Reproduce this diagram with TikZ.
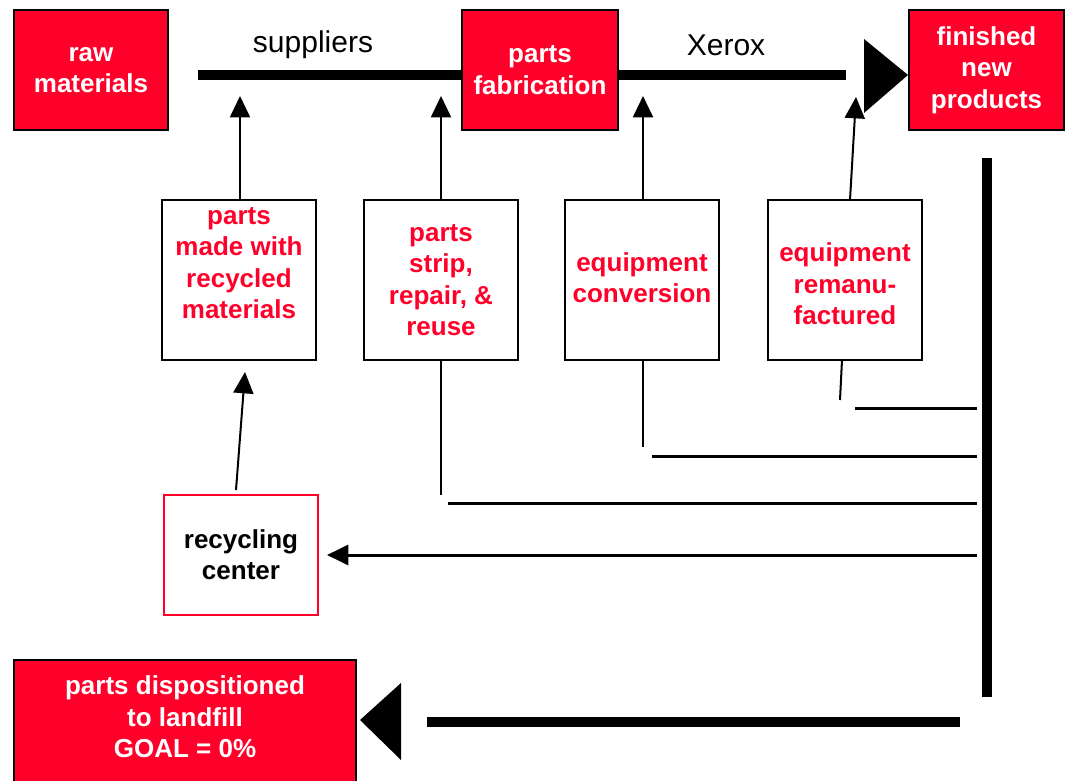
\documentclass[tikz,border=0pt]{standalone}
\usepackage{fontspec}
\setmainfont{Liberation Sans}
\usetikzlibrary{arrows.meta}
\definecolor{xred}{RGB}{255,0,42}
\begin{document}
\begin{tikzpicture}[x=0.75pt,y=-0.75pt,
  bf/.style={font=\fontsize{19.5}{23.5}\selectfont\bfseries, align=center},
  redbox/.style={draw=black, line width=1.5pt, fill=xred, text=white, bf, inner sep=0pt, minimum height=90pt},
  whitebox/.style={draw=black, line width=1.5pt, fill=white, inner sep=0pt, minimum width=115.5pt, minimum height=120pt},
  redtxt/.style={bf, text=xred, inner sep=0pt},
  lbl/.style={font=\fontsize{22.5}{26}\selectfont, inner sep=0pt},
  bus/.style={line width=7.5pt},
  feed/.style={line width=1.5pt},
  up/.style={line width=1.5pt, -{Triangle[width=15pt,length=16pt]}},
  hline/.style={line width=2.25pt},
  head/.style={fill=black, draw=none}
]
\useasboundingbox (0,0) rectangle (1070,781);

% top row
\node[redbox, minimum width=115.5pt] (raw) at (91,70) {raw\\materials};
\node[redbox, minimum width=117pt] (fab) at (540,70) {parts\\fabrication};
\node[redbox, minimum width=116pt] (fin) at (986.5,70) {finished\\new\\products};
\node[lbl] (sup) at (313,45) {suppliers};
\node[lbl] (xer) at (726,45) {Xerox};

% bus coordinates
\coordinate (s0) at (198,75);
\coordinate (x1) at (846,75);
\draw[bus] (s0) -- (fab.west |- s0);
\draw[bus] (fab.east |- x1) -- (x1);
\fill[head] (864,39) -- (908,75) -- (864,113) -- cycle;

% middle boxes
\node[whitebox] (m1) at (239,280) {};
\node[redtxt] (t1) at (239,263) {parts\\made with\\recycled\\materials};
\node[whitebox] (m2) at (441,280) {};
\node[redtxt] (t2) at (441,280) {parts\\strip,\\repair, \&\\reuse};
\node[whitebox] (m3) at (642,280) {};
\node[redtxt] (t3) at (642,278) {equipment\\conversion};
\node[whitebox] (m4) at (845,280) {};
\node[redtxt] (t4) at (845,284) {equipment\\remanu-\\factured};

% arrows up to the bus
\coordinate (a1) at (240,96);
\coordinate (a2) at (441,96);
\coordinate (a3) at (643,96);
\coordinate (a4) at (856,97);
\draw[up] (m1.north -| a1) -- (a1);
\draw[up] (m2.north) -- (a2);
\draw[up] (m3.north -| a3) -- (a3);
\draw[up] (850,200) -- (a4);

% recycling center
\node[draw=xred, line width=1.5pt, fill=white, minimum width=115.5pt, minimum height=90pt, bf, inner sep=0pt] (rc) at (241,555) {recycling\\center};
\coordinate (rcs) at (236,490);
\coordinate (rct) at (245,372);
\draw[up] (rcs) -- (rct);

% return lines
\coordinate (b4) at (840,400);
\draw[feed] (842,360) -- (b4);
\coordinate (h4a) at (855,408); \coordinate (h4b) at (977,408);
\draw[hline] (h4a) -- (h4b);
\coordinate (b3) at (643,447);
\draw[feed] (m3.south -| b3) -- (b3);
\coordinate (h3a) at (652,456); \coordinate (h3b) at (977,456);
\draw[hline] (h3a) -- (h3b);
\coordinate (b2) at (441,495);
\draw[feed] (m2.south) -- (b2);
\coordinate (h2a) at (448,503); \coordinate (h2b) at (977,503);
\draw[hline] (h2a) -- (h2b);
\coordinate (h1b) at (977,555);
\coordinate (h1a) at (327,555);
\draw[hline, -{Triangle[width=15pt,length=16pt]}] (h1b) -- (h1a);

% vertical bus
\coordinate (v0) at (987,158);
\coordinate (v1) at (987,697);
\draw[bus] (v0) -- (v1);

% landfill
\node[redbox, minimum width=256.5pt, minimum height=91.5pt] (lf) at (185,721) {};
\node[bf, text=white, inner sep=0pt] (lft) at (185,717) {parts dispositioned\\to landfill\\GOAL = 0\%};
\coordinate (l0) at (960,722);
\coordinate (l1) at (427,722);
\draw[bus] (l0) -- (l1);
\fill[head] (401,683) -- (360,720) -- (401,760) -- cycle;
\end{tikzpicture}
\end{document}
